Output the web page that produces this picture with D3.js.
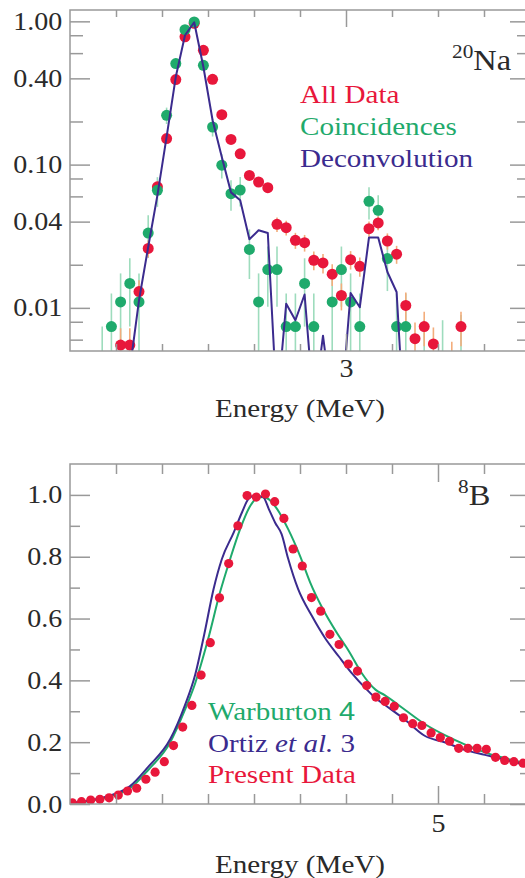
<!DOCTYPE html>
<html>
<head>
<meta charset="utf-8">
<script src="https://cdn.jsdelivr.net/npm/d3@7"></script>
<style>
  html, body { margin: 0; padding: 0; background: #fff; }
  svg { display: block; }
</style>
</head>
<body>
<div id="chart"></div>
<script>
"use strict";

// ---- 20Na panel (50 keV bins) ----
var naEnergy = [1.675, 1.725, 1.775, 1.825, 1.875, 1.925, 1.975, 2.025, 2.075, 2.125,
  2.175, 2.225, 2.275, 2.325, 2.375, 2.425, 2.475, 2.525, 2.575, 2.625,
  2.675, 2.725, 2.775, 2.825, 2.875, 2.925, 2.975, 3.025, 3.075, 3.125,
  3.175, 3.225, 3.275, 3.325, 3.375, 3.425, 3.475, 3.525, 3.575, 3.625, 3.675];
var naAllData = [null, null, 0.0055, 0.0055, 0.013, 0.026, 0.070, 0.152, 0.392, 0.78,
  0.97, 0.628, 0.394, 0.223, 0.150, 0.119, 0.084, 0.0756, 0.069, 0.0383,
  0.0363, 0.0296, 0.0285, 0.0215, 0.0206, 0.0172, 0.0122, 0.0217, 0.0195, 0.0357,
  0.0392, 0.0293, 0.0237, 0.0104, 0.0061, 0.0074, 0.0056, null, 0.0038, 0.0074, null];
var naAllErr = [null, null, 0.0017, 0.0017, 0.0026, 0.0035, 0.006, 0.007, 0.011, 0.015,
  0.016, 0.013, 0.011, 0.008, 0.007, 0.0065, 0.0055, 0.0053, 0.005, 0.0044,
  0.0043, 0.0038, 0.0038, 0.0032, 0.0032, 0.003, 0.0026, 0.0032, 0.003, 0.0043,
  0.0044, 0.0038, 0.0034, 0.0024, 0.0018, 0.002, 0.0017, null, 0.002, 0.002, null];
var naCoinc = [0.0037, 0.0074, 0.011, 0.0148, 0.011, 0.0333, 0.0662, 0.221, 0.507, 0.875,
  0.99, 0.493, 0.183, 0.099, 0.0627, 0.0665, 0.0256, 0.011, 0.0185, 0.0185,
  0.0074, 0.0074, 0.0148, 0.0074, null, 0.011, 0.0185, 0.011, 0.0074, 0.0554,
  0.048, 0.0221, 0.0074, 0.0074, null, 0.0037, null, 0.0037, null, 0.0037, null];
var naCoincErr = [0.0037, 0.0052, 0.0064, 0.0074, 0.0064, 0.011, 0.0155, 0.029, 0.043, 0.057,
  0.06, 0.043, 0.026, 0.019, 0.015, 0.0155, 0.0097, 0.0064, 0.0083, 0.0083,
  0.0052, 0.0052, 0.0074, 0.0052, null, 0.0064, 0.0083, 0.0064, 0.0052, 0.014,
  0.013, 0.009, 0.0052, 0.0052, null, 0.0045, null, 0.0045, null, 0.0052, null];
var naDeconv = [null, null, null, 0.0037, 0.0113, 0.0266, 0.061, 0.156, 0.41, 0.80,
  0.985, 0.48, 0.204, 0.113, 0.064, 0.0563, 0.0301, 0.0348, 0.0333, 0.002,
  0.0107, 0.0082, 0.0124, 0.002, 0.0064, 0.002, 0.002, 0.0127, 0.0101, 0.031,
  0.031, 0.0178, 0.0129, 0.001, null, null, null, null, null, null, null];
var naYMajor = [1, 0.4, 0.1, 0.04, 0.01];
var naYLabels = ["1.00", "0.40", "0.10", "0.04", "0.01"];
var naYMinor = [0.8, 0.6, 0.2, 0.08, 0.06, 0.02, 0.008, 0.006];
var naXMajor = [3];
var naXLabels = ["3"];
var naXMinor = [1.75, 2, 2.25, 2.5, 2.75, 3.25, 3.5, 3.75];

// ---- 8B panel (100 keV bins) ----
var bEnergy = [1.025, 1.125, 1.225, 1.325, 1.425, 1.525, 1.625, 1.725, 1.825, 1.925,
  2.025, 2.125, 2.225, 2.325, 2.425, 2.525, 2.625, 2.725, 2.825, 2.925,
  3.025, 3.125, 3.225, 3.325, 3.425, 3.525, 3.625, 3.725, 3.825, 3.925,
  4.025, 4.125, 4.225, 4.325, 4.425, 4.525, 4.625, 4.725, 4.825, 4.925,
  5.025, 5.125, 5.225, 5.325, 5.425, 5.525, 5.625, 5.725, 5.825, 5.925];
var bData = [0.004, 0.0075, 0.013, 0.015, 0.02, 0.029, 0.042, 0.051, 0.08, 0.103,
  0.137, 0.189, 0.249, 0.319, 0.417, 0.522, 0.667, 0.778, 0.90, 0.998,
  0.993, 1.003, 0.978, 0.924, 0.825, 0.77, 0.668, 0.624, 0.549, 0.516,
  0.453, 0.43, 0.383, 0.346, 0.332, 0.316, 0.279, 0.26, 0.254, 0.23,
  0.215, 0.203, 0.18, 0.18, 0.18, 0.177, 0.151, 0.141, 0.137, 0.132];
var warburtonE = [1.0, 1.22, 1.43, 1.65, 1.85, 2.09, 2.25, 2.36, 2.50, 2.63, 2.74, 2.85,
  2.96, 3.05, 3.14, 3.25, 3.37, 3.50, 3.61, 3.75, 3.90, 4.03, 4.17, 4.32, 4.42, 4.64,
  4.86, 5.08, 5.29, 5.51, 5.73, 5.95, 6.0];
var warburtonV = [0.002, 0.01, 0.024, 0.05, 0.11, 0.20, 0.305, 0.39, 0.532, 0.684, 0.792, 0.89,
  0.965, 0.993, 0.989, 0.955, 0.89, 0.803, 0.717, 0.63, 0.554, 0.495, 0.424, 0.37, 0.352, 0.305,
  0.258, 0.222, 0.193, 0.167, 0.148, 0.132, 0.129];
var ortizE = [1.0, 1.22, 1.43, 1.65, 1.85, 2.09, 2.25, 2.36, 2.46, 2.56, 2.65, 2.78,
  2.87, 2.94, 3.01, 3.10, 3.16, 3.23, 3.30, 3.37, 3.48, 3.63, 3.77, 3.92, 4.06, 4.21,
  4.32, 4.42, 4.64, 4.86, 5.08, 5.29, 5.51, 5.73, 5.95, 6.0];
var ortizV = [0.003, 0.012, 0.027, 0.057, 0.12, 0.21, 0.32, 0.417, 0.55, 0.695, 0.792, 0.879,
  0.944, 0.987, 0.998, 0.993, 0.955, 0.91, 0.873, 0.795, 0.695, 0.608, 0.538, 0.478, 0.424, 0.375,
  0.343, 0.321, 0.273, 0.22, 0.199, 0.175, 0.159, 0.143, 0.127, 0.124];
var bYMajor = [0, 0.2, 0.4, 0.6, 0.8, 1.0];
var bYLabels = ["0.0", "0.2", "0.4", "0.6", "0.8", "1.0"];
var bYMinor = [0.1, 0.3, 0.5, 0.7, 0.9];
var bXMajor = [5];
var bXLabels = ["5"];
var bXMinor = [1.5, 2, 2.5, 3, 3.5, 4, 4.5, 5.5];

var RED = "#e8173b", GREEN = "#1faa6c", PURPLE = "#3b2b8e";
var RED_ERR = "#f3ad7c", GREEN_ERR = "#9edcbd";
var AXIS = "#999", INK = "#2a2a2a";
var SERIF = "'Liberation Serif', 'Times New Roman', serif";
var SANS = "'Liberation Sans', Arial, sans-serif";
var SX = 1.12; // reference text is a little wide

var width = 525, height = 878;
var svg = d3.select("#chart").append("svg")
  .attr("width", width).attr("height", height);

function textAt(g, x, y, size, fill) {
  return g.append("text")
    .attr("transform", "translate(" + x + "," + y + ") scale(" + SX + ",1)")
    .attr("font-family", SERIF)
    .attr("font-size", size)
    .attr("fill", fill);
}

function tickAxis(g, axis, translate, values, size, labels, pad) {
  axis.tickValues(values).tickSizeInner(size).tickSizeOuter(0).tickPadding(pad || 7)
    .tickFormat(labels ? function(d, i) { return labels[i]; } : "");
  var sel = g.append("g").attr("transform", translate).call(axis);
  sel.select(".domain").remove();
  sel.selectAll("line").attr("stroke", AXIS).attr("stroke-width", 1.5);
  sel.selectAll("text")
    .attr("font-family", SERIF)
    .attr("font-size", 25)
    .attr("fill", INK)
    .attr("transform", "scale(" + SX + ",1)");
  return sel;
}

function frame(g, x, y, o) {
  var x0 = x.range()[0], x1 = x.range()[1], y0 = y.range()[0], y1 = y.range()[1];
  g.append("rect")
    .attr("x", x0).attr("y", y1)
    .attr("width", x1 - x0).attr("height", y0 - y1)
    .attr("fill", "none").attr("stroke", AXIS).attr("stroke-width", 1.5);
  tickAxis(g, d3.axisLeft(y), "translate(" + x0 + ",0)", o.yMajor, -20, o.yLabels, 7);
  tickAxis(g, d3.axisLeft(y), "translate(" + x0 + ",0)", o.yMinor, -o.yMinorLen);
  tickAxis(g, d3.axisRight(y), "translate(" + x1 + ",0)", o.yMajor, -20);
  tickAxis(g, d3.axisRight(y), "translate(" + x1 + ",0)", o.yMinor, -o.yMinorLen);
  tickAxis(g, d3.axisBottom(x), "translate(0," + y0 + ")", o.xMajor, -o.xMajorLen, o.xLabels, o.xPad);
  tickAxis(g, d3.axisBottom(x), "translate(0," + y0 + ")", o.xMinor, -o.xMinorLen);
  tickAxis(g, d3.axisTop(x), "translate(0," + y1 + ")", o.xMajor, -o.xMajorLen);
  tickAxis(g, d3.axisTop(x), "translate(0," + y1 + ")", o.xMinor, -o.xMinorLen);
  textAt(g, (x0 + x1) / 2, o.titleY, 26, INK)
    .attr("text-anchor", "middle")
    .text("Energy (MeV)");
}

function clip(g, id, x, y) {
  g.append("clipPath").attr("id", id).append("rect")
    .attr("x", x.range()[0]).attr("y", y.range()[1])
    .attr("width", x.range()[1] - x.range()[0])
    .attr("height", y.range()[0] - y.range()[1]);
  return g.append("g").attr("clip-path", "url(#" + id + ")");
}

function errorBars(g, x, y, energy, vals, errs, color, floor) {
  var pts = energy.map(function(e, i) { return { e: e, v: vals[i], err: errs[i] }; })
    .filter(function(d) { return d.v != null; });
  g.selectAll(null).data(pts).enter().append("line")
    .attr("x1", function(d) { return x(d.e); })
    .attr("x2", function(d) { return x(d.e); })
    .attr("y1", function(d) { return y(Math.max(d.v - d.err, floor)); })
    .attr("y2", function(d) { return y(d.v + d.err); })
    .attr("stroke", color).attr("stroke-width", 1.6);
}

function dots(g, x, y, energy, vals, color, r, minVal) {
  var pts = energy.map(function(e, i) { return { e: e, v: vals[i] }; })
    .filter(function(d) { return d.v != null && d.v >= minVal; });
  g.selectAll(null).data(pts).enter().append("circle")
    .attr("cx", function(d) { return x(d.e); })
    .attr("cy", function(d) { return y(d.v); })
    .attr("r", r)
    .attr("fill", color);
}

// ---------- top panel: 20Na ----------
var gTop = svg.append("g");
var xNa = d3.scaleLinear().domain([1.5, 4.0]).range([70, 530]);
var yNa = d3.scaleLog().domain([0.005, 1.2]).range([351, 10]);

var plotNa = clip(gTop, "clipNa", xNa, yNa);
errorBars(plotNa, xNa, yNa, naEnergy, naCoinc, naCoincErr, GREEN_ERR, 0.001);
errorBars(plotNa, xNa, yNa, naEnergy, naAllData, naAllErr, RED_ERR, 0.001);
dots(plotNa, xNa, yNa, naEnergy, naAllData, RED, 5.5, 0.005);
dots(plotNa, xNa, yNa, naEnergy, naCoinc, GREEN, 5.5, 0.005);

var deconv = naEnergy.map(function(e, i) { return { e: e, v: naDeconv[i] }; })
  .filter(function(d) { return d.v != null; });
plotNa.append("path")
  .datum(deconv)
  .attr("fill", "none")
  .attr("stroke", PURPLE)
  .attr("stroke-width", 2)
  .attr("stroke-linejoin", "round")
  .attr("d", d3.line().x(function(d) { return xNa(d.e); }).y(function(d) { return yNa(d.v); }));

frame(gTop, xNa, yNa, {
  yMajor: naYMajor, yLabels: naYLabels, yMinor: naYMinor, yMinorLen: 13,
  xMajor: naXMajor, xLabels: naXLabels, xMinor: naXMinor,
  xMajorLen: 17, xMinorLen: 7, xPad: 8, titleY: 417
});

var naLegend = [["All Data", RED], ["Coincidences", GREEN], ["Deconvolution", PURPLE]];
naLegend.forEach(function(d, i) {
  textAt(gTop, 300, 103 + i * 32, 26, d[1]).text(d[0]);
});
var naTag = textAt(gTop, 452, 70, 29, INK);
naTag.append("tspan").attr("font-size", 19).attr("dy", -12).text("20");
naTag.append("tspan").attr("dy", 12).text("Na");

// ---------- bottom panel: 8B ----------
var gBot = svg.append("g");
var xB = d3.scaleLinear().domain([1, 6]).range([70, 530]);
var yB = d3.scaleLinear().domain([0, 1.1]).range([804, 464]);

var plotB = clip(gBot, "clipB", xB, yB);
var curve = d3.line().curve(d3.curveMonotoneX)
  .x(function(d) { return xB(d[0]); }).y(function(d) { return yB(d[1]); });
plotB.append("path")
  .datum(d3.zip(warburtonE, warburtonV))
  .attr("fill", "none").attr("stroke", GREEN).attr("stroke-width", 2)
  .attr("d", curve);
plotB.append("path")
  .datum(d3.zip(ortizE, ortizV))
  .attr("fill", "none").attr("stroke", PURPLE).attr("stroke-width", 2)
  .attr("d", curve);
dots(plotB, xB, yB, bEnergy, bData, RED, 4.6, 0);

frame(gBot, xB, yB, {
  yMajor: bYMajor, yLabels: bYLabels, yMinor: bYMinor, yMinorLen: 10,
  xMajor: bXMajor, xLabels: bXLabels, xMinor: bXMinor,
  xMajorLen: 18, xMinorLen: 10, xPad: 10, titleY: 873
});

var bLegend = [
  [["Warburton ", SERIF, "normal"], ["4", SANS, "normal"], GREEN],
  [["Ortiz ", SERIF, "normal"], ["et al.", SERIF, "italic"], [" 3", SERIF, "normal"], PURPLE],
  [["Present Data", SERIF, "normal"], RED]
];
bLegend.forEach(function(row, i) {
  var color = row[row.length - 1];
  var t = textAt(gBot, 208, 720 + i * 31.7, 26, color);
  row.slice(0, -1).forEach(function(p) {
    t.append("tspan").attr("font-family", p[1]).attr("font-style", p[2])
      .style("white-space", "pre").text(p[0]);
  });
});
var bTag = textAt(gBot, 458, 505, 29, INK);
bTag.append("tspan").attr("font-size", 19).attr("dy", -12).text("8");
bTag.append("tspan").attr("dy", 12).text("B");
</script>
</body>
</html>
